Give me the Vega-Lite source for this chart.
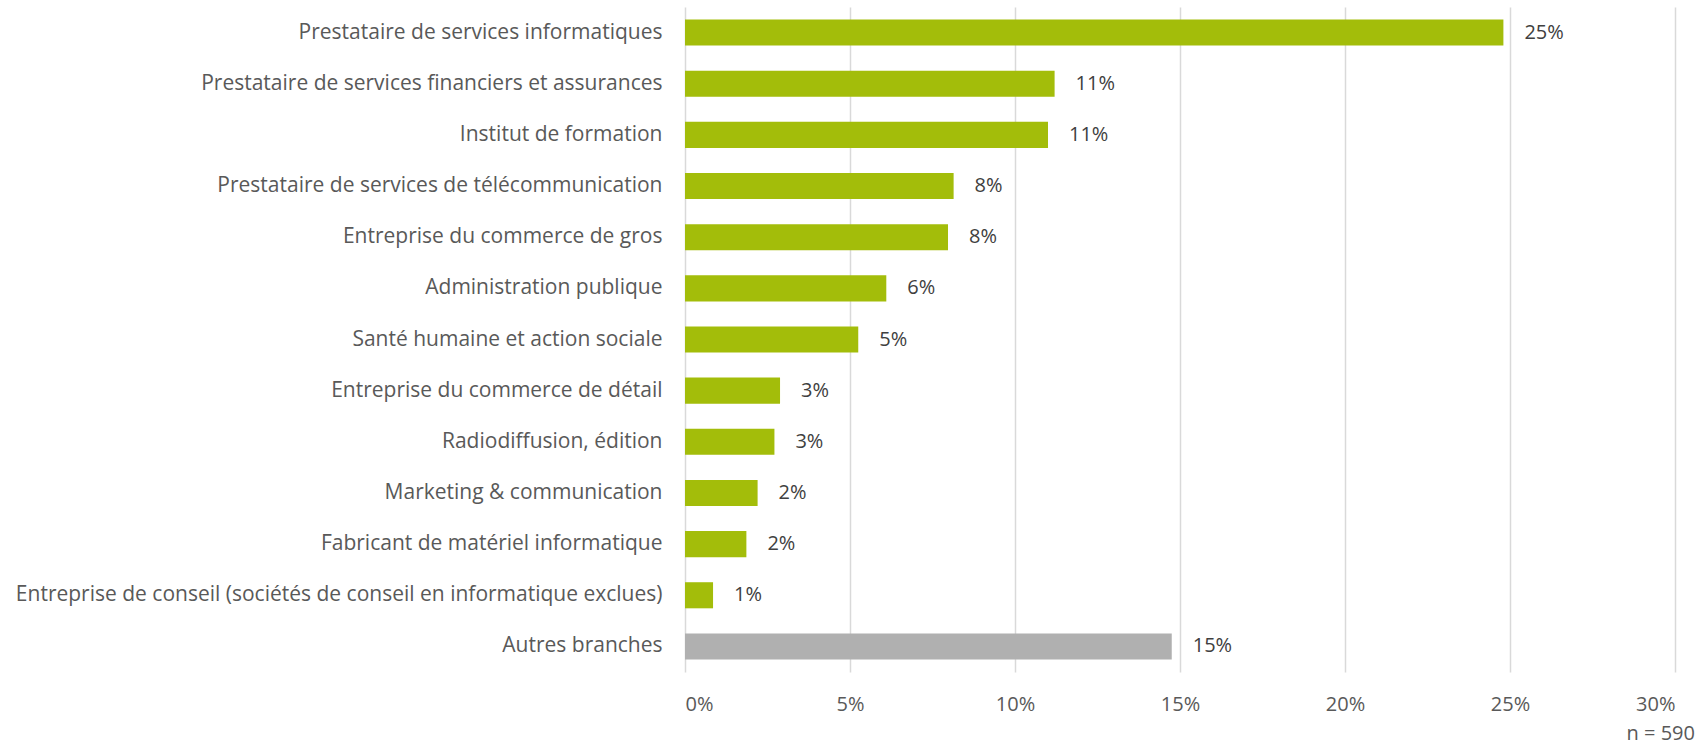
{
  "$schema": "https://vega.github.io/schema/vega-lite/v6.json",
  "autosize": "none",
  "width": 990,
  "height": 665,
  "padding": {"left": 685, "top": 7, "right": 32, "bottom": 73},
  "background": "white",
  "config": {
    "view": {"stroke": null},
    "font": "Open Sans"
  },
  "title": {
    "text": "n = 590",
    "orient": "bottom",
    "anchor": "end",
    "frame": "group",
    "dx": 20,
    "offset": 10,
    "fontSize": 20,
    "fontWeight": "normal",
    "color": "#595959",
    "font": "Open Sans"
  },
  "data": {
    "values": [
      {"branche": "Prestataire de services informatiques", "part": 0.248, "type": "branche"},
      {"branche": "Prestataire de services financiers et assurances", "part": 0.112, "type": "branche"},
      {"branche": "Institut de formation", "part": 0.110, "type": "branche"},
      {"branche": "Prestataire de services de télécommunication", "part": 0.0814, "type": "branche"},
      {"branche": "Entreprise du commerce de gros", "part": 0.0797, "type": "branche"},
      {"branche": "Administration publique", "part": 0.061, "type": "branche"},
      {"branche": "Santé humaine et action sociale", "part": 0.0525, "type": "branche"},
      {"branche": "Entreprise du commerce de détail", "part": 0.0288, "type": "branche"},
      {"branche": "Radiodiffusion, édition", "part": 0.0271, "type": "branche"},
      {"branche": "Marketing & communication", "part": 0.022, "type": "branche"},
      {"branche": "Fabricant de matériel informatique", "part": 0.0186, "type": "branche"},
      {"branche": "Entreprise de conseil (sociétés de conseil en informatique exclues)", "part": 0.0085, "type": "branche"},
      {"branche": "Autres branches", "part": 0.1475, "type": "autres"}
    ]
  },
  "encoding": {
    "y": {
      "field": "branche",
      "type": "nominal",
      "sort": null,
      "scale": {"paddingInner": 0.49, "paddingOuter": 0.245},
      "axis": {
        "title": null,
        "domain": false,
        "ticks": false,
        "grid": false,
        "labelPadding": 23,
        "labelFontSize": 21,
        "labelColor": "#595959",
        "labelLimit": 0,
        "labelFont": "Open Sans"
      }
    },
    "x": {
      "field": "part",
      "type": "quantitative",
      "scale": {"domain": [0, 0.3], "nice": false},
      "axis": {
        "title": null,
        "format": ".0%",
        "values": [0, 0.05, 0.1, 0.15, 0.2, 0.25, 0.3],
        "domain": false,
        "ticks": false,
        "grid": true,
        "gridColor": "#D9D9D9",
        "gridWidth": 1.5,
        "labelPadding": 22,
        "labelFontSize": 20,
        "labelColor": "#595959",
        "labelFont": "Open Sans"
      }
    }
  },
  "layer": [
    {
      "mark": {"type": "bar"},
      "encoding": {
        "color": {
          "field": "type",
          "type": "nominal",
          "scale": {"domain": ["branche", "autres"], "range": ["#A3BD0A", "#B0B0B0"]},
          "legend": null
        }
      }
    },
    {
      "mark": {"type": "text", "align": "left", "baseline": "middle", "dx": 21, "fontSize": 20, "color": "#404040", "font": "Open Sans"},
      "encoding": {
        "text": {"field": "part", "type": "quantitative", "format": ".0%"}
      }
    }
  ]
}
